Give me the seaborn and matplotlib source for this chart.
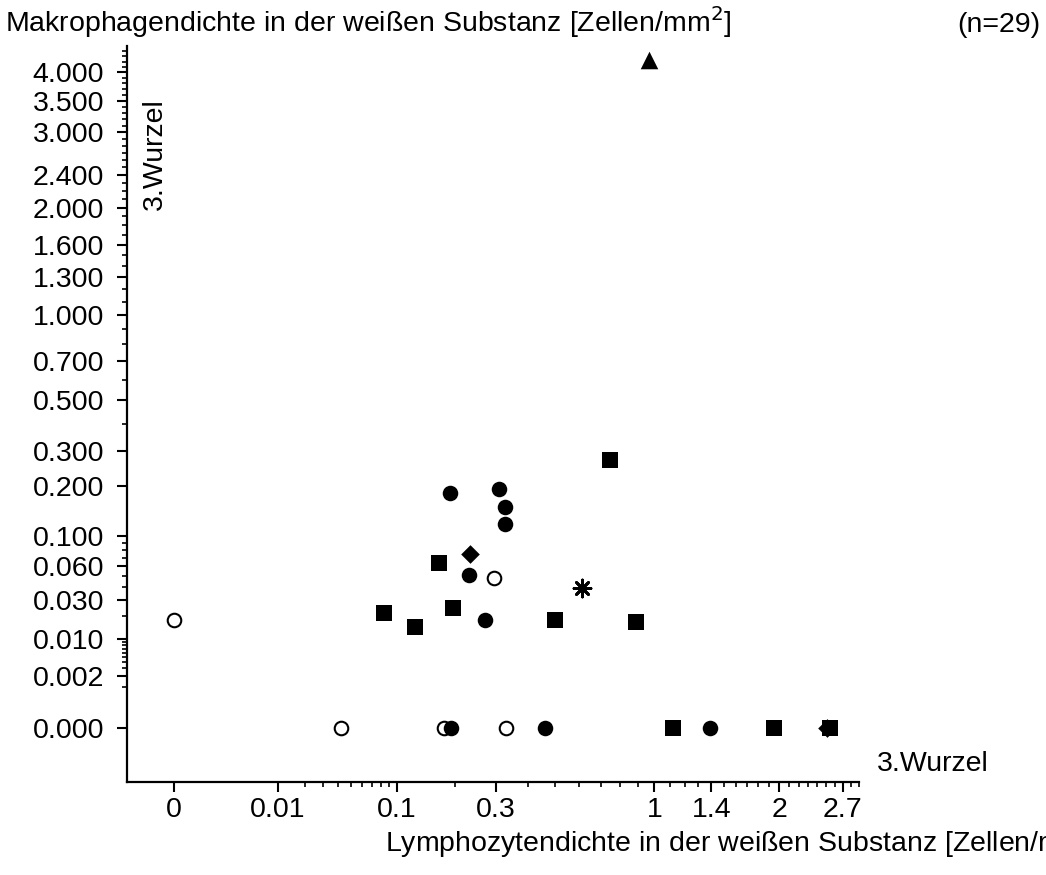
import numpy as np
import pandas as pd
import matplotlib
matplotlib.use("Agg")
import matplotlib.pyplot as plt
import seaborn as sns

kreis_x = [0.190, 0.309, 0.326, 0.326, 0.232, 0.272, 0.192, 0.460, 1.389]
kreis_y = [0.185, 0.193, 0.154, 0.120, 0.0508, 0.0179, 0.0, 0.0, 0.0]

quadrat_x = [0.745, 0.167, 0.0837, 0.1267, 0.1946, 0.497, 0.891, 1.123, 1.946, 2.552]
quadrat_y = [0.273, 0.0634, 0.0214, 0.0145, 0.0247, 0.0179, 0.0171, 0.0, 0.0, 0.0]

offen_x = [0.0, 0.2964, 0.0415, 0.1766, 0.330]
offen_y = [0.0179, 0.0476, 0.0, 0.0, 0.0]

raute_x = [0.2344, 2.514]
raute_y = [0.0744, 0.0]

stern_x = [0.612]
stern_y = [0.0387]

dreieck_x = [0.967]
dreieck_y = [4.23]

xticks = [0, 0.01, 0.1, 0.3, 1, 1.4, 2, 2.7]
xticklabels = ['0', '0.01', '0.1', '0.3', '1', '1.4', '2', '2.7']
yticks = [0.0, 0.002, 0.01, 0.03, 0.06, 0.1, 0.2, 0.3, 0.5, 0.7, 1.0,
          1.3, 1.6, 2.0, 2.4, 3.0, 3.5, 4.0]

sns.set_style('ticks')
plt.rcParams['font.family'] = ['Liberation Sans', 'DejaVu Sans']
plt.rcParams['font.size'] = 20.5
for k in ['text.color', 'xtick.color', 'ytick.color', 'axes.labelcolor', 'axes.edgecolor']:
    plt.rcParams[k] = 'black'

fig = plt.figure(figsize=(10.46, 8.75), dpi=100)
ax = fig.add_axes([127 / 1046, 93 / 875, 732 / 1046, 736 / 875])

gruppen = [
    ('offen', offen_x, offen_y, 'o', 95, 'white', 1.5),
    ('raute', raute_x, raute_y, 'D', 90, 'black', 0),
    ('kreis', kreis_x, kreis_y, 'o', 125, 'black', 0),
    ('quadrat', quadrat_x, quadrat_y, 's', 135, 'black', 0),
]
for name, xs, ys, m, s, fc, lw in gruppen:
    df = pd.DataFrame({'x': xs, 'y': ys})
    sns.scatterplot(data=df, x='x', y='y', marker=m, s=s, color=fc,
                    edgecolor='black', linewidth=lw, ax=ax, zorder=3)

df = pd.DataFrame({'x': stern_x, 'y': stern_y})
sns.scatterplot(data=df, x='x', y='y', marker=(8, 2, 0), s=150, color='black',
                linewidth=2, ax=ax, zorder=3)
df = pd.DataFrame({'x': dreieck_x, 'y': dreieck_y})
sns.scatterplot(data=df, x='x', y='y', marker='^', s=160, color='black',
                linewidth=0, ax=ax, zorder=3)

ax.set_xscale('function', functions=(np.cbrt, lambda v: v ** 3))
ax.set_yscale('function', functions=(np.cbrt, lambda v: v ** 3))
ax.set_xlim(-0.000955, 2.895)
ax.set_ylim(-0.00224, 4.50)

ax.set_xticks(xticks)
ax.set_xticklabels(xticklabels)
ax.set_yticks(yticks)
ax.set_yticklabels([f'{v:.3f}' for v in yticks])

xminor = [0.02, 0.03, 0.04, 0.05, 0.06, 0.07, 0.08, 0.09, 0.2,
          0.4, 0.5, 0.6, 0.7, 0.8, 0.9, 1.1, 1.2, 1.3, 1.5, 1.6, 1.7,
          1.8, 1.9, 2.1, 2.2, 2.3, 2.4, 2.5, 2.6, 2.8, 2.9]
yminor = [0.001, 0.003, 0.004, 0.005, 0.006, 0.007, 0.008, 0.009, 0.02,
          0.04, 0.05, 0.07, 0.08, 0.09, 0.4, 0.6, 0.8, 0.9]
yminor += [round(v, 1) for v in np.arange(1.1, 4.45, 0.1)
           if round(v, 1) not in yticks]
ax.set_xticks(xminor, minor=True)
ax.set_yticks(yminor, minor=True)

ax.tick_params(which='major', length=7.5, width=1.5, labelsize=20.5)
ax.tick_params(which='minor', length=3.5, width=1.2)
ax.tick_params(axis='y', which='major', pad=9)
ax.tick_params(axis='x', which='major', pad=3)
ax.set_xlabel('')
ax.set_ylabel('')
sns.despine(ax=ax)
for sp in ax.spines.values():
    sp.set_linewidth(1.6)

fig.text(5 / 1046, 1 - 32 / 875, 'Makrophagendichte in der weißen Substanz [Zellen/mm$^2$]',
         va='baseline', ha='left')
fig.text(1040 / 1046, 1 - 32 / 875, '(n=29)', va='baseline', ha='right')
fig.text(155 / 1046, 1 - 98 / 875, '3.Wurzel', rotation=90, ha='center', va='top')
fig.text(877 / 1046, 1 - 771 / 875, '3.Wurzel', va='baseline', ha='left')
fig.text(385 / 1046, 1 - 852 / 875, 'Lymphozytendichte in der weißen Substanz [Zellen/mm$^2$]',
         va='baseline', ha='left')

fig.savefig('out.png', dpi=100)
